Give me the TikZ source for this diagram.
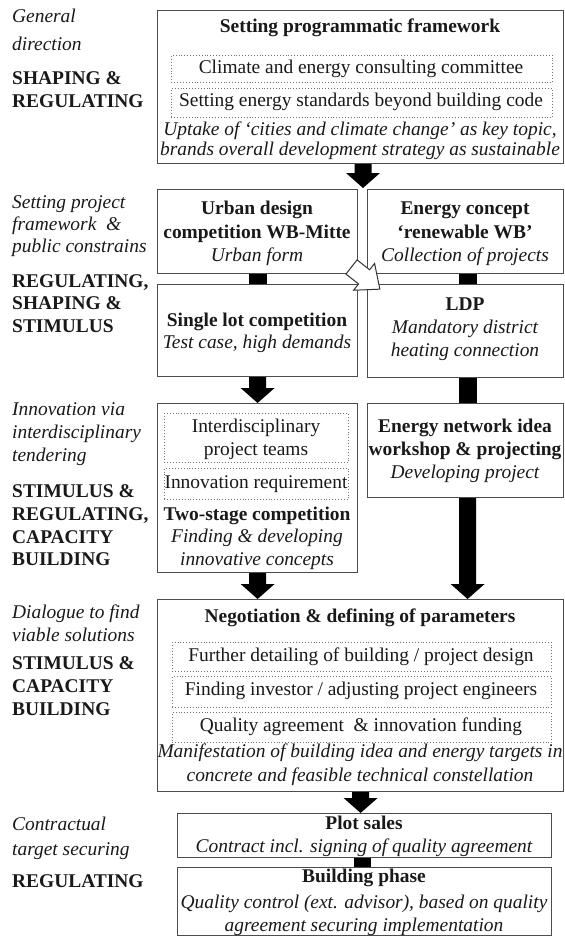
\documentclass[tikz,border=0pt]{standalone}
\usepackage{fontspec}
\setmainfont{Liberation Serif}
\usetikzlibrary{calc}
\tikzset{
  frame/.style={draw=black!70, line width=1.2bp, anchor=north west, inner sep=0pt, fill=white},
  dbox/.style={draw=black!55, dotted, line width=0.9bp, anchor=north west, inner sep=0pt},
  txt/.style={font=\fontsize{19.5}{22}\selectfont, inner sep=0pt, text height=13bp, text depth=4bp, text=black!90},
  bt/.style={txt, font=\fontsize{19.5}{22}\selectfont\bfseries},
  it/.style={txt, font=\fontsize{19.5}{22}\selectfont\itshape},
  lit/.style={it, anchor=west},
  lbt/.style={bt, anchor=west},
  bar/.style={line width=18bp, draw=black},
  hollow/.style={draw=black!80, line width=1bp, fill=white, line join=miter},
}
% block arrow from #1 (top) down to #2 (tip)
\newcommand\blockarr[2]{%
  \path (#1) coordinate (ba-s) (#2) coordinate (ba-e);
  \fill[black] let \p1=(ba-s), \p2=(ba-e) in
    (\x1-8.5bp,\y1) -- (\x1-8.5bp,\y2+15bp) -- (\x1-17bp,\y2+15bp) -- (\x1,\y2)
    -- (\x1+17bp,\y2+15bp) -- (\x1+8.5bp,\y2+15bp) -- (\x1+8.5bp,\y1) -- cycle;
}
\begin{document}
\begin{tikzpicture}[x=1bp,y=-1bp]
\fill[white] (0,0) rectangle (565,936);
\useasboundingbox (0,0) rectangle (565,936);

% ---------- left labels ----------
\node[lit] (l1a) at (12,18) {General};
\node[lit] (l1b) at (12,46) {direction};
\node[lbt] (l1c) at (12,80) {SHAPING \&};
\node[lbt] (l1d) at (12,103) {REGULATING};

\node[lit] (l2a) at (12,204) {Setting project};
\node[lit] (l2b) at (12,226) {framework \ \&};
\node[lit] (l2c) at (12,248) {public constrains};
\node[lbt] (l2d) at (12,283) {REGULATING,};
\node[lbt] (l2e) at (12,305) {SHAPING \&};
\node[lbt] (l2f) at (12,328) {STIMULUS};

\node[lit] (l3a) at (12,411) {Innovation via};
\node[lit] (l3b) at (12,434) {interdisciplinary};
\node[lit] (l3c) at (12,457) {tendering};
\node[lbt] (l3d) at (12,493) {STIMULUS \&};
\node[lbt] (l3e) at (12,516) {REGULATING,};
\node[lbt] (l3f) at (12,539) {CAPACITY};
\node[lbt] (l3g) at (12,561) {BUILDING};

\node[lit] (l4a) at (12,614) {Dialogue to find};
\node[lit] (l4b) at (12,637) {viable solutions};
\node[lbt] (l4c) at (12,665) {STIMULUS \&};
\node[lbt] (l4d) at (12,688) {CAPACITY};
\node[lbt] (l4e) at (12,711) {BUILDING};

\node[lit] (l5a) at (12,826) {Contractual};
\node[lit] (l5b) at (12,851) {target securing};
\node[lbt] (l5c) at (12,883) {REGULATING};

% ---------- frames ----------
\node[frame, minimum width=406bp, minimum height=153bp] (b1) at (157,10) {};
\node[frame, minimum width=200bp, minimum height=84bp] (urban) at (157,189) {};
\node[frame, minimum width=196bp, minimum height=84bp] (energy) at (367,189) {};
\node[frame, minimum width=200bp, minimum height=92bp] (single) at (157,284) {};
\node[frame, minimum width=196bp, minimum height=93bp] (ldp) at (367,284) {};
\node[frame, minimum width=200bp, minimum height=169bp] (two) at (157,403) {};
\node[frame, minimum width=196bp, minimum height=94bp] (enet) at (367,403) {};
\node[frame, minimum width=406bp, minimum height=192bp] (nego) at (157,599) {};
\node[frame, minimum width=374bp, minimum height=44bp] (plot) at (177,813) {};
\node[frame, minimum width=374bp, minimum height=68bp] (build) at (177,867) {};

% ---------- dotted inner boxes ----------
\node[dbox, minimum width=381bp, minimum height=27bp] (d1) at (171,55) {};
\node[dbox, minimum width=381bp, minimum height=29bp] (d2) at (171,88) {};
\node[dbox, minimum width=184bp, minimum height=49bp] (d3) at (164,413) {};
\node[dbox, minimum width=184bp, minimum height=31bp] (d4) at (164,468) {};
\node[dbox, minimum width=379bp, minimum height=29bp] (d5) at (172,642) {};
\node[dbox, minimum width=379bp, minimum height=31bp] (d6) at (172,676) {};
\node[dbox, minimum width=379bp, minimum height=30bp] (d7) at (172,712) {};

% ---------- texts ----------
\node[bt] (t1) at (360,28) {Setting programmatic framework};
\node[txt] (t2) at (361,69) {Climate and energy consulting committee};
\node[txt] (t3) at (361,102) {Setting energy standards beyond building code};
\node[it] (t4) at (360,131) {Uptake of ‘cities and climate change’ as key topic,};
\node[it] (t5) at (360,151) {brands overall development strategy as sustainable};

\node[bt] (u1) at (257,210) {Urban design};
\node[bt] (u2) at (257,234) {competition WB-Mitte};
\node[it] (u3) at (257,257) {Urban form};

\node[bt] (e1) at (465,210) {Energy concept};
\node[bt] (e2) at (465,234) {‘renewable WB’};
\node[it] (e3) at (465,257) {Collection of projects};

\node[bt] (s1) at (257,322) {Single lot competition};
\node[it] (s2) at (257,344) {Test case, high demands};

\node[bt] (p1) at (465,306) {LDP};
\node[it] (p2) at (465,329) {Mandatory district};
\node[it] (p3) at (465,352) {heating connection};

\node[txt] (w1) at (256,428) {Interdisciplinary};
\node[txt] (w2) at (256,451) {project teams};
\node[txt] (w3) at (256,484) {Innovation requirement};
\node[bt] (w4) at (257,516) {Two-stage competition};
\node[it] (w5) at (257,538) {Finding \& developing};
\node[it] (w6) at (257,561) {innovative concepts};

\node[bt] (n1) at (465,428) {Energy network idea};
\node[bt] (n2) at (465,451) {workshop \& projecting};
\node[it] (n3) at (465,474) {Developing project};

\node[bt] (g1) at (360,618) {Negotiation \& defining of parameters};
\node[txt] (g2) at (361,657) {Further detailing of building / project design};
\node[txt] (g3) at (361,691) {Finding investor / adjusting project engineers};
\node[txt] (g4) at (361,727) {Quality agreement \ \& innovation funding};
\node[it] (g5) at (360,753) {Manifestation of building idea and energy targets in};
\node[it] (g6) at (360,777) {concrete and feasible technical constellation};

\node[bt] (q1) at (364,825) {Plot sales};
\node[it] (q2) at (364,848) {Contract incl. signing of quality agreement};

\node[bt] (r1) at (364,878) {Building phase};
\node[it] (r2) at (364,904) {Quality control (ext. advisor), based on quality};
\node[it] (r3) at (364,927) {agreement securing implementation};

% ---------- connectors ----------
\coordinate (gap1) at (363,188);
\blockarr{b1.south -| gap1}{gap1}
\draw[bar] (urban.south) -- (single.north);
\draw[bar] ([xshift=2bp]energy.south) -- ([xshift=2bp]ldp.north);
\draw[bar] ([xshift=2bp]ldp.south) -- ([xshift=2bp]enet.north);
\blockarr{single.south}{single.south |- two.north}
\blockarr{two.south}{two.south |- nego.north}
\blockarr{[xshift=2bp]enet.south}{[xshift=2bp]enet.south |- nego.north}
\blockarr{nego.south}{nego.south |- plot.north}
\draw[bar, line width=17bp] ([xshift=-2bp]plot.south) -- ([xshift=-2bp]build.north);

% hollow arrow from urban design towards LDP
\coordinate (ha) at (351.5,267);
\begin{scope}[shift={(ha)}, rotate=-38]
  \draw[hollow] (0,-9) -- (16,-9) -- (16,-17) -- (36,0) -- (16,17) -- (16,9) -- (0,9) -- cycle;
\end{scope}
\end{tikzpicture}
\end{document}
